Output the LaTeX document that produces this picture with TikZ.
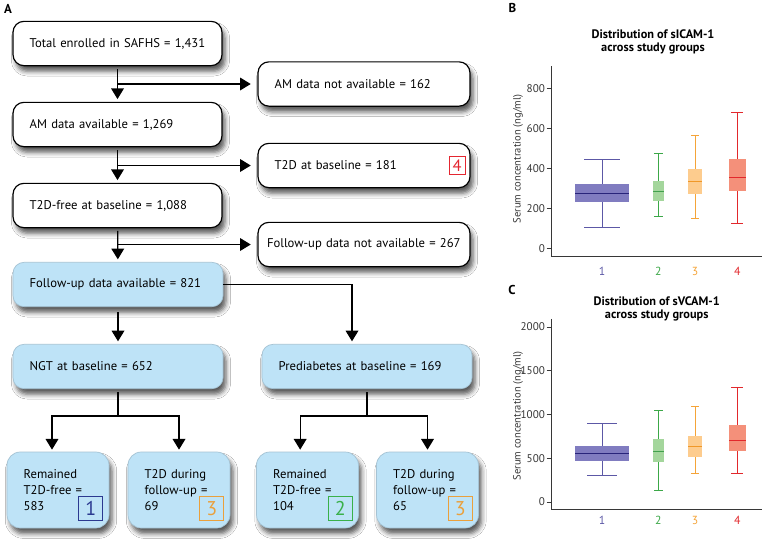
\documentclass[tikz,border=0pt]{standalone}
\usepackage{fontspec}
\setmainfont{PT Sans}
\usetikzlibrary{arrows.meta,positioning,calc,shadows.blur}
\definecolor{FlowBlue}{RGB}{190,227,247}
\definecolor{FlowEdge}{RGB}{165,195,212}
\definecolor{AxisGray}{RGB}{55,55,55}
\definecolor{KeyOne}{RGB}{43,57,144}
\definecolor{KeyTwo}{RGB}{57,176,74}
\definecolor{KeyThree}{RGB}{234,160,60}
\definecolor{KeyFour}{RGB}{228,38,48}
\definecolor{OneLine}{RGB}{92,88,166}
\definecolor{OneFill}{RGB}{128,124,192}
\definecolor{OneMed}{RGB}{40,36,122}
\definecolor{TwoLine}{RGB}{60,168,72}
\definecolor{TwoFill}{RGB}{164,214,156}
\definecolor{TwoMed}{RGB}{66,160,78}
\definecolor{ThreeLine}{RGB}{245,164,56}
\definecolor{ThreeFill}{RGB}{253,204,142}
\definecolor{ThreeMed}{RGB}{240,152,40}
\definecolor{FourLine}{RGB}{226,40,44}
\definecolor{FourFill}{RGB}{244,144,122}
\definecolor{FourMed}{RGB}{226,40,44}
% #1 x, #2 box half width, #3 cap half width, #4 low, #5 q1, #6 median, #7 q3, #8 high, #9 colour prefix
\newcommand{\groupbox}[9]{%
  \draw[#9Line,line width=0.8pt] (#1,#4) -- (#1,#8);
  \draw[#9Line,line width=0.8pt] (#1-#3,#4) -- (#1+#3,#4) (#1-#3,#8) -- (#1+#3,#8);
  \fill[#9Fill] (#1-#2,#5) rectangle (#1+#2,#7);
  \draw[#9Med,line width=0.8pt] (#1-#2,#6) -- (#1+#2,#6);
}

\begin{document}
\begin{tikzpicture}[x=0.03cm,y=-0.03cm,
    font=\fontsize{10.8}{14}\selectfont,
    flowbox/.style={rounded corners=0.33cm,minimum height=1.33cm,align=left,inner xsep=0.5cm,
      blur shadow={shadow xshift=0.09cm,shadow yshift=-0.17cm,shadow blur radius=0.14cm,shadow opacity=65}},
    whitebox/.style={flowbox,draw=black,line width=1pt,fill=white},
    bluebox/.style={flowbox,draw=FlowEdge,line width=0.6pt,fill=FlowBlue},
    leafbox/.style={bluebox,rounded corners=0.4cm,minimum height=2.28cm,text width=2.06cm,inner xsep=0.5cm},
    numbox/.style={draw=#1,text=#1,line width=0.9pt,minimum size=0.72cm,inner sep=0pt,
      font=\fontsize{17}{17}\selectfont},
    arr/.style={-{Triangle[length=0.32cm,width=0.38cm]},line width=1.1pt},
    panel/.style={font=\bfseries\fontsize{11}{11}\selectfont},
    charttitle/.style={align=center,font=\bfseries\fontsize{10.5}{11}\selectfont},
    axislabel/.style={text=AxisGray,font=\fontsize{9}{9}\selectfont},
    ticklabel/.style={anchor=east,inner sep=1pt,text=AxisGray,font=\fontsize{9.5}{9.5}\selectfont},
    grouplabel/.style={font=\fontsize{10}{10}\selectfont},
    axis/.style={AxisGray,line width=0.7pt}]
  \fill[white] (0,0) rectangle (762,551);
  \useasboundingbox (0,0) rectangle (762,551);

  % flow chart
  \node[panel] (labA) at (8,9) {A};
  \node[whitebox,text width=5.27cm] (total) at (117.5,43.5) {Total enrolled in SAFHS = 1,431};
  \node[whitebox,text width=5.27cm] (amyes) at (117.5,124.5) {AM data available = 1,269};
  \node[whitebox,text width=5.27cm] (tfree) at (117.5,205.5) {T2D-free at baseline = 1,088};
  \node[bluebox,text width=5.3cm] (fuyes) at (118,284.5) {Follow-up data available = 821};
  \node[bluebox,text width=5.3cm] (ngt) at (118,366.5) {NGT at baseline = 652};
  \node[bluebox,text width=5.3cm] (pre) at (367,366.5) {Prediabetes at baseline = 169};
  \node[whitebox,text width=5.36cm] (amno) at (364,84) {AM data not available = 162};
  \node[whitebox,text width=5.36cm] (tbase) at (364,165.5) {T2D at baseline = 181};
  \node[whitebox,text width=5.82cm,inner xsep=0.27cm] (funo) at (364,244.5) {Follow-up data not available = 267};
  \node[numbox=KeyFour,minimum width=0.48cm,minimum height=0.54cm,font=\fontsize{14}{14}\selectfont,
    left=0.15cm of tbase.east] (keyfour) {4};

  \node[leafbox] (ngtfree) at (58,490) {Remained\\T2D-free =\\583};
  \node[leafbox] (ngtdiab) at (179,490) {T2D during\\follow-up =\\69};
  \node[leafbox] (prefree) at (307.5,490) {Remained\\T2D-free =\\104};
  \node[leafbox] (prediab) at (427.5,490) {T2D during\\follow-up =\\65};
  \node[numbox=KeyOne,above left=0.21cm and 0.18cm of ngtfree.south east] (keyone) {1};
  \node[numbox=KeyThree,above left=0.21cm and 0.18cm of ngtdiab.south east] (keythreea) {3};
  \node[numbox=KeyTwo,above left=0.21cm and 0.18cm of prefree.south east] (keytwo) {2};
  \node[numbox=KeyThree,above left=0.21cm and 0.18cm of prediab.south east] (keythreeb) {3};

  \draw[arr,shorten <=0.08cm,shorten >=0.08cm] (total) -- (amyes);
  \draw[arr,shorten >=0.2cm] (total.south |- amno.west) -- (amno.west);
  \draw[arr,shorten <=0.08cm,shorten >=0.08cm] (amyes) -- (tfree);
  \draw[arr,shorten >=0.2cm] (amyes.south |- tbase.west) -- (tbase.west);
  \draw[arr,shorten <=0.08cm,shorten >=0.08cm] (tfree) -- (fuyes);
  \draw[arr,shorten >=0.2cm] (tfree.south |- funo.west) -- (funo.west);
  \draw[arr,shorten <=0.15cm,shorten >=0.08cm] (fuyes) -- (ngt);
  \draw[arr,shorten >=0.08cm] (fuyes.east) -| ([xshift=-0.45cm]pre.north);
  \draw[line width=1.1pt,shorten <=0.1cm] (ngt.south) -- ++(0,27) coordinate (ngtsplit);
  \draw[arr,shorten >=0.06cm] (ngtsplit) -| ([xshift=-0.18cm]ngtfree.north);
  \draw[arr,shorten >=0.06cm] (ngtsplit) -| (ngtdiab.north);
  \draw[line width=1.1pt,shorten <=0.1cm] (pre.south) -- ++(0,27) coordinate (presplit);
  \draw[arr,shorten >=0.06cm] (presplit) -| ([xshift=-0.22cm]prefree.north);
  \draw[arr,shorten >=0.06cm] (presplit) -| (prediab.north);

  % panel B
  \node[panel] (labB) at (512.5,7.5) {B};
  \node[charttitle] (titleB) at (653,42) {Distribution of sICAM-1\\across study groups};
  \node[axislabel,rotate=90] (ylabB) at (518,159) {Serum concentration (ng/ml)};
  \begin{scope}[shift={(0,248.3)},y=0.006cm]
    \draw[axis] (551.7,911) -- (551.7,-38.5) -- (762,-38.5);
    \foreach \v in {0,200,...,800}
      \draw[axis] (546.5,\v) node[ticklabel] {\v} -- (551.7,\v);
    \groupbox{602}{27}{18}{106}{233}{275}{321}{446}{One}
    \groupbox{658.3}{5.2}{4.5}{158}{235}{283}{336}{473}{Two}
    \groupbox{695}{6.7}{4}{151}{272}{333}{396}{566}{Three}
    \groupbox{737.3}{8.3}{6}{123}{287}{355}{445}{678}{Four}
  \end{scope}
  \node[grouplabel,text=OneLine] (gB1) at (602,271.7) {1};
  \node[grouplabel,text=TwoLine] (gB2) at (658.3,271.7) {2};
  \node[grouplabel,text=ThreeLine] (gB3) at (695,271.7) {3};
  \node[grouplabel,text=FourLine] (gB4) at (737.3,271.7) {4};

  % panel C
  \node[panel] (labC) at (512,290) {C};
  \node[charttitle] (titleC) at (656.7,309) {Distribution of sVCAM-1\\across study groups};
  \node[axislabel,rotate=90] (ylabC) at (518,416) {Serum concentration (ng/ml)};
  \begin{scope}[shift={(0,502)},y=0.00262cm]
    \draw[axis] (551.7,2095) -- (551.7,-80) -- (762,-80);
    \foreach \v in {0,500,...,2000}
      \draw[axis] (546.5,\v) node[ticklabel] {\v} -- (551.7,\v);
    \groupbox{602}{27}{15}{298}{466}{557}{645}{896}{One}
    \groupbox{658.3}{5.2}{4.3}{137}{462}{580}{721}{1050}{Two}
    \groupbox{695}{6.7}{4}{324}{512}{638}{752}{1091}{Three}
    \groupbox{737.3}{8.3}{6}{332}{580}{698}{878}{1313}{Four}
  \end{scope}
  \node[grouplabel,text=OneLine] (gC1) at (602,520) {1};
  \node[grouplabel,text=TwoLine] (gC2) at (658.3,520) {2};
  \node[grouplabel,text=ThreeLine] (gC3) at (695,520) {3};
  \node[grouplabel,text=FourLine] (gC4) at (737.3,520) {4};
\end{tikzpicture}
\end{document}
